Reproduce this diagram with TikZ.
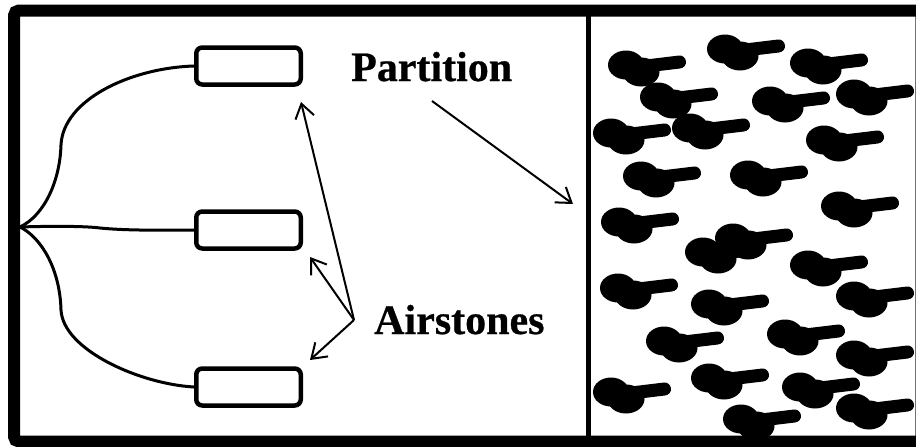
\documentclass[tikz,border=0pt]{standalone}
\usepackage{fontspec}
\setmainfont{Liberation Serif}
\usetikzlibrary{arrows.meta}
\tikzset{
  stone/.style={draw=black,line width=4.5pt,rounded corners=6pt,minimum width=104.5pt,minimum height=37pt,inner sep=0pt,fill=white},
  pipe/.style={draw=black,line width=3pt},
  pointer/.style={draw=black,line width=2pt,-{Straight Barb[length=14pt,width=19pt,line width=2pt]}},
  lbl/.style={font=\bfseries\fontsize{42}{42}\selectfont,inner sep=0pt,anchor=base west},
}
\newcommand{\fishblob}[2]{%
  \begin{scope}[shift={(#1+18,#2)}]
    \fill[black] (0,0) ellipse (18pt and 14.5pt);
    \fill[black] (15,7) ellipse (18.5pt and 14.5pt);
    \draw[black,line width=13pt,line cap=round] (12,2) -- (53.5,-3);
  \end{scope}}
\begin{document}
\begin{tikzpicture}[x=1pt,y=-1pt]
\useasboundingbox (0,0) rectangle (916,447);
\fill[white] (0,0) rectangle (916,447);
\draw[black!55,line width=1.2pt] (915.2,5) -- (915.2,440);
\draw[black,line width=12pt,rounded corners=5pt] (916,10.5) -- (14,10.5) -- (14,441.5) -- (916,441.5);
\fill[black] (586,10) rectangle (590.6,440);
\coordinate (hub) at (20,227);
\node[stone] (s1) at (248.5,66) {};
\node[stone] (s2) at (248.5,230) {};
\node[stone] (s3) at (248.5,387) {};
\draw[pipe] (hub) .. controls (45,215) and (60,180) .. (61,145) .. controls (63,100) and (130,68) .. (s1.west);
\draw[pipe] (hub) .. controls (50,226) and (85,226) .. (100,228) .. controls (130,231) and (170,230) .. (s2.west);
\draw[pipe] (hub) .. controls (42,238) and (60,270) .. (61,310) .. controls (63,350) and (140,384) .. (s3.west);
\node[lbl] (partition) at (351,81) {\addfontfeature{FakeBold=0.6}Partition};
\node[lbl] (airstones) at (374,334) {\addfontfeature{FakeBold=0.6}Airstones};
\coordinate (pa) at (432,101);
\coordinate (pb) at (573,204);
\draw[pointer] (pa) -- (pb);
\coordinate (ah) at (354,320);
\coordinate (a1) at (301,102);
\coordinate (a2) at (310,257);
\coordinate (a3) at (310,360);
\draw[pointer] (ah) -- (a1);
\draw[pointer] (ah) -- (a2);
\draw[pointer] (ah) -- (a3);
\foreach \x/\y in {608/65,707/49,790/63,640/97,752/101,836/94,593/133,672/128,806/140,623/176,730/175,821/206,601/222,685/252,715/238,790/265,600/288,691/304,836/296,646/341,767/334,836/355,593/392,691/378,782/387,723/419,836/408}{\fishblob{\x}{\y}}
\end{tikzpicture}
\end{document}
